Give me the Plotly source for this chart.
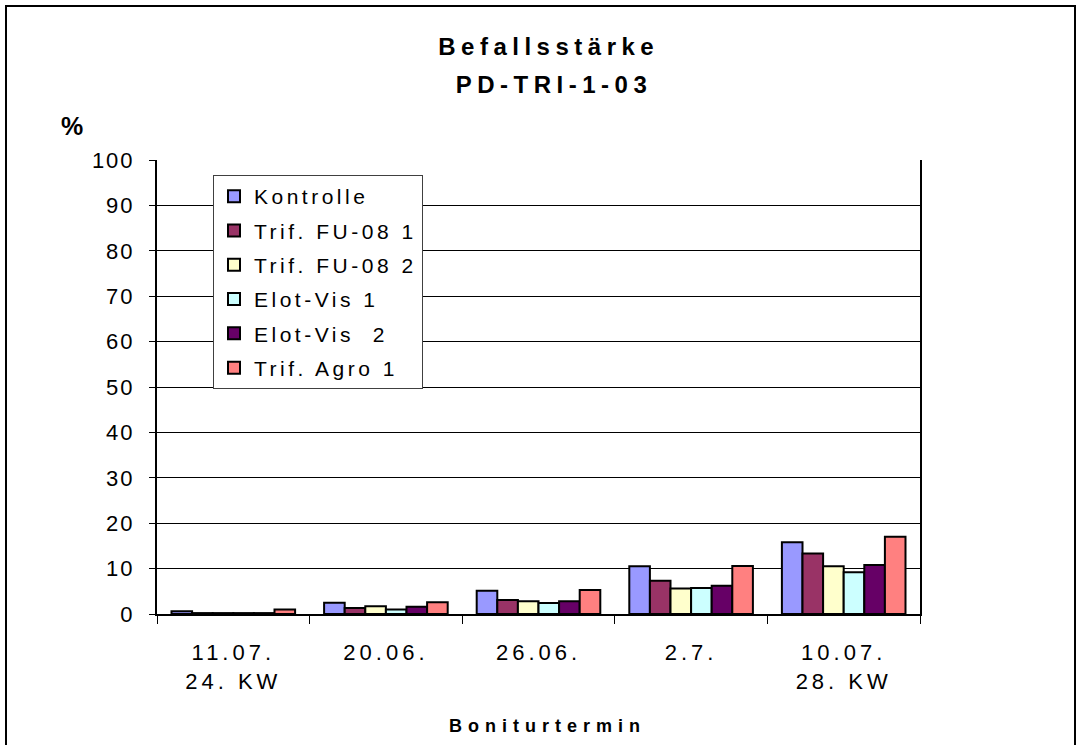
import plotly.graph_objects as go

categories = ["11.07.<br>24. KW", "20.06.", "26.06.", "2.7.", "10.07.<br>28. KW"]
series_names = ["Kontrolle", "Trif. FU-08 1", "Trif. FU-08 2", "Elot-Vis 1", "Elot-Vis  2", "Trif. Agro 1"]
kontrolle = [0.6, 2.5, 5.1, 10.5, 15.8]
trif_fu08_1 = [0.2, 1.3, 3.1, 7.3, 13.3]
trif_fu08_2 = [0.2, 1.7, 2.8, 5.6, 10.5]
elot_vis_1 = [0.2, 1.0, 2.4, 5.7, 9.2]
elot_vis_2 = [0.2, 1.6, 2.8, 6.2, 10.8]
trif_agro_1 = [1.0, 2.6, 5.3, 10.6, 17.0]
series_values = [kontrolle, trif_fu08_1, trif_fu08_2, elot_vis_1, elot_vis_2, trif_agro_1]
colors = ["#9999FF", "#993366", "#FFFFCC", "#CCFFFF", "#660066", "#FF8080"]
y_ticks = list(range(0, 101, 10))

FONT = "Arial, Liberation Sans, sans-serif"
FONT2 = "Liberation Sans, Arial, sans-serif"

fig = go.Figure()
for i, (name, vals, col) in enumerate(zip(series_names, series_values, colors)):
    fig.add_trace(go.Bar(
        x=categories, y=vals, name=name,
        legendgroup=f"g{i}",
        marker=dict(color=col, line=dict(color="black", width=2)),
    ))

W, H = 1081, 745
L, R, T, B = 157, 920, 160, 614

def px_x(px):
    return (px - L) / (R - L)

def px_y(py):
    return (B - py) / (B - T)

fig.update_layout(
    width=W, height=H,
    margin=dict(l=L, r=W - R, t=T, b=H - B),
    paper_bgcolor="white", plot_bgcolor="white",
    font=dict(family=FONT, size=20, color="black"),
    barmode="group", bargap=0.19, bargroupgap=0,
    showlegend=True,
    legend=dict(
        x=px_x(213), y=px_y(175), xanchor="left", yanchor="top",
        bordercolor="#404040", borderwidth=1, bgcolor="white",
        font=dict(family=FONT, size=21, color="black"),
        traceorder="grouped", tracegroupgap=4,
        itemwidth=30,
    ),
    xaxis=dict(
        type="category",
        showline=True, linecolor="black", linewidth=2,
        ticks="outside", tickson="boundaries", ticklen=8, tickcolor="black",
        tickfont=dict(family=FONT, size=22, color="black"),
        ticklabelstandoff=18,
        showgrid=False,
    ),
    yaxis=dict(
        range=[0, 100], tickvals=y_ticks,
        showline=True, linecolor="black", linewidth=2, mirror=True,
        ticks="outside", ticklen=6, tickcolor="black",
        tickfont=dict(family=FONT, size=22, color="black"),
        ticklabelstandoff=10,
        showgrid=True, gridcolor="black", gridwidth=1,
        zeroline=False,
    ),
    shapes=[dict(
        type="rect", xref="paper", yref="paper",
        x0=px_x(6), x1=px_x(1075), y0=px_y(760), y1=px_y(6),
        line=dict(color="black", width=2), fillcolor="rgba(0,0,0,0)", layer="below",
    )],
    annotations=[
        dict(text="<b>Befallsstärke</b>", x=px_x(548), y=px_y(46), xref="paper", yref="paper",
             showarrow=False, xanchor="center", yanchor="middle",
             font=dict(family=FONT, size=24, color="black")),
        dict(text="<b>PD-TRI-1-03</b>", x=px_x(554), y=px_y(84), xref="paper", yref="paper",
             showarrow=False, xanchor="center", yanchor="middle",
             font=dict(family=FONT, size=24, color="black")),
        dict(text="<b>%</b>", x=px_x(72), y=px_y(126), xref="paper", yref="paper",
             showarrow=False, xanchor="center", yanchor="middle",
             font=dict(family=FONT, size=25, color="black")),
        dict(text="<b>Boniturtermin</b>", x=px_x(547), y=px_y(726), xref="paper", yref="paper",
             showarrow=False, xanchor="center", yanchor="middle",
             font=dict(family=FONT, size=18, color="black")),
    ],
)

post = """
document.body.style.margin = '0';
var st = document.createElement('style');
st.textContent =
  '.legendtext{letter-spacing:3.5px;}' +
  '.xtick text{letter-spacing:4px;}' +
  '.ytick text{letter-spacing:2px;}' +
  '.annotation[data-index="0"] text{letter-spacing:5.5px;}' +
  '.annotation[data-index="1"] text{letter-spacing:5.5px;}' +
  '.annotation[data-index="3"] text{letter-spacing:6px;}' +
  '.modebar-container{display:none !important;}';
document.head.appendChild(st);
var gd = document.getElementById('{plot_id}');
Plotly.relayout(gd, {'legend.font.family': '%s'});
""" % FONT2

fig.write_html("out.html", post_script=post,
               config={"displayModeBar": False, "staticPlot": False})
